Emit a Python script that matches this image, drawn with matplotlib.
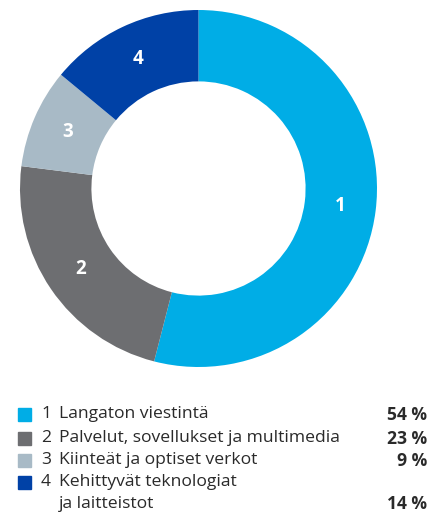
import matplotlib.pyplot as plt
from matplotlib.patches import Rectangle

# data
numbers = ["1", "2", "3", "4"]
labels = ["Langaton viestintä", "Palvelut, sovellukset ja multimedia",
          "Kiinteät ja optiset verkot", "Kehittyvät teknologiat\nja laitteistot"]
shares = [54, 23, 9, 14]
colors = ["#00ade6", "#6d6e71", "#a8bac6", "#0041a6"]

W, H = 441, 515
fig = plt.figure(figsize=(W / 100, H / 100), dpi=100)
plt.rcParams['font.family'] = ['Open Sans', 'DejaVu Sans']

# donut
cx, cy, r = 198.5, 188.5, 178.5
ax = fig.add_axes([(cx - r) / W, 1 - (cy + r) / H, 2 * r / W, 2 * r / H])
wedges, texts = ax.pie(shares, colors=colors, startangle=90, counterclock=False,
                       radius=1, labels=numbers, labeldistance=0.8,
                       wedgeprops=dict(width=0.4, linewidth=0),
                       textprops=dict(color="white", fontsize=13.5, fontweight="bold"))
for t in texts:
    t.set_ha("center")
    t.set_va("center")
ax.set_xlim(-1, 1)
ax.set_ylim(-1, 1)
ax.set_aspect("equal")
ax.axis("off")

# legend
fs = 12.6
row_y = [414.5, 438.5, 460.5, 482]
for i, (n, lab, s, c) in enumerate(zip(numbers, labels, shares, colors)):
    y = row_y[i]
    fig.patches.append(Rectangle((18 / W, 1 - (y + 6.5) / H), 13 / W, 13 / H,
                                 transform=fig.transFigure, color=c, figure=fig))
    lines = lab.split("\n")
    fig.text(41 / W, 1 - y / H, n, fontsize=fs, color="#2a2a2a", va="center")
    for j, line in enumerate(lines):
        fig.text(59 / W, 1 - (y + j * 22) / H, line, fontsize=fs, color="#2a2a2a",
                 va="center")
    fig.text(427 / W, 1 - (y + (len(lines) - 1) * 22) / H, f"{s} %", fontsize=fs,
             color="#2a2a2a", va="center", ha="right", fontweight="bold")

fig.savefig("out.png", dpi=100)
